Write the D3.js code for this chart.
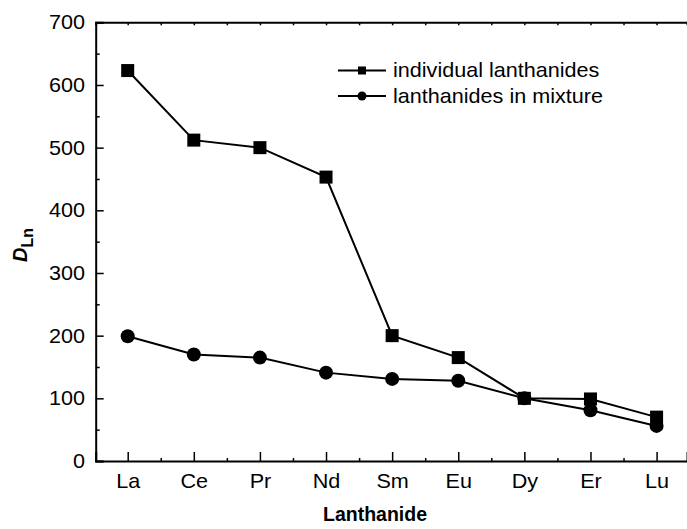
<!DOCTYPE html>
<html>
<head>
<meta charset="utf-8">
<style>
  body { margin: 0; background: #fff; }
  svg text { font-family: "Liberation Sans", Arial, sans-serif; fill: #000; }
</style>
</head>
<body>
<svg id="chart" width="687" height="529"></svg>
<script src="https://cdn.jsdelivr.net/npm/d3@7"></script>
<script>

var elements = ["La", "Ce", "Pr", "Nd", "Sm", "Eu", "Dy", "Er", "Lu"];
var individual = [623, 512, 500, 453, 200, 165, 100, 99, 70];
var mixture = [199, 170, 165, 141, 131, 128, 100, 81, 56];
var yTicks = [0, 100, 200, 300, 400, 500, 600, 700];
var yMinor = [50, 150, 250, 350, 450, 550, 650];

var svg = d3.select("#chart");
var stretch = "scale(1.08,1)";

var x = d3.scaleLinear()
    .domain([-0.484, 8.46])
    .range([95.7, 687]);

var y = d3.scaleLinear()
    .domain([0, 700])
    .range([461, 22.3]);

var idx = d3.range(elements.length);
var xMinor = idx.map(i => i + 0.5);

// top frame line
var topAxis = svg.append("g").attr("transform", "translate(0," + y(700) + ")");
topAxis.call(d3.axisTop(x).tickValues(idx.concat(xMinor)).tickSize(-3).tickFormat(""));

// bottom axis
var bottomAxis = svg.append("g").attr("transform", "translate(0," + y(0) + ")");
bottomAxis.call(d3.axisBottom(x)
    .tickValues(idx)
    .tickSize(-9)
    .tickPadding(13)
    .tickFormat(i => elements[i]));
svg.append("g").attr("transform", "translate(0," + y(0) + ")")
    .call(d3.axisBottom(x).tickValues(xMinor).tickSize(-3).tickFormat(""))
    .select(".domain").remove();

// left axis
var leftAxis = svg.append("g").attr("transform", "translate(" + x.range()[0] + ",0)");
leftAxis.call(d3.axisLeft(y)
    .tickValues(yTicks)
    .tickSize(-8)
    .tickPadding(10));
svg.append("g").attr("transform", "translate(" + x.range()[0] + ",0)")
    .call(d3.axisLeft(y).tickValues(yMinor).tickSize(-4).tickFormat(""))
    .select(".domain").remove();

svg.selectAll(".domain").attr("stroke-width", 2);
svg.selectAll(".tick line").attr("stroke-width", 1.5);
svg.selectAll(".tick text")
    .attr("font-size", 20)
    .attr("font-family", "Liberation Sans, Arial, sans-serif")
    .attr("transform", stretch);

// axis titles
svg.append("text")
    .attr("x", 375)
    .attr("y", 521)
    .attr("text-anchor", "middle")
    .attr("font-size", 19.5)
    .attr("font-weight", "bold")
    .text("Lanthanide");

var yl = svg.append("text")
    .attr("transform", "translate(27,245) rotate(-90)")
    .attr("text-anchor", "middle")
    .attr("font-size", 20)
    .attr("font-weight", "bold");
yl.append("tspan").attr("font-style", "italic").text("D");
yl.append("tspan").attr("dy", 6).attr("font-size", 16).text("Ln");

// series
var line = d3.line()
    .x((d, i) => x(i))
    .y(d => y(d));

svg.append("path")
    .datum(mixture)
    .attr("fill", "none")
    .attr("stroke", "#000")
    .attr("stroke-width", 2)
    .attr("d", line);

svg.append("path")
    .datum(individual)
    .attr("fill", "none")
    .attr("stroke", "#000")
    .attr("stroke-width", 2)
    .attr("d", line);

svg.selectAll(".dot")
    .data(mixture)
    .enter().append("circle")
    .attr("class", "dot")
    .attr("cx", (d, i) => x(i))
    .attr("cy", d => y(d))
    .attr("r", 7);

var sq = 13;
svg.selectAll(".sq")
    .data(individual)
    .enter().append("rect")
    .attr("class", "sq")
    .attr("x", (d, i) => x(i) - sq / 2)
    .attr("y", d => y(d) - sq / 2)
    .attr("width", sq)
    .attr("height", sq);

// legend
var legend = svg.append("g").attr("transform", "translate(338,0)");
var entries = [
  {label: "individual lanthanides", shape: "square", y: 70.5},
  {label: "lanthanides in mixture", shape: "circle", y: 96}
];
var le = legend.selectAll(".le").data(entries).enter().append("g")
    .attr("transform", d => "translate(0," + d.y + ")");
le.append("line").attr("x1", 0).attr("x2", 48).attr("stroke", "#000").attr("stroke-width", 2);
le.filter(d => d.shape == "square").append("rect")
    .attr("x", 20).attr("y", -4).attr("width", 8).attr("height", 8);
le.filter(d => d.shape == "circle").append("circle")
    .attr("cx", 24).attr("r", 4.5);
le.append("text")
    .attr("transform", "translate(55,6.5) " + stretch)
    .attr("font-size", 20)
    .text(d => d.label);

</script>
</body>
</html>
